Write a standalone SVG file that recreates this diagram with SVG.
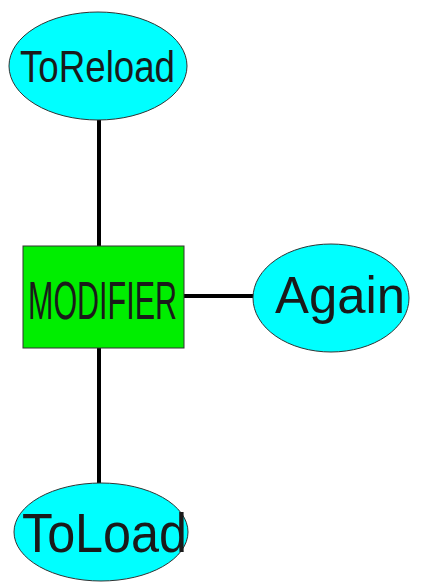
<svg xmlns="http://www.w3.org/2000/svg" width="425" height="582" viewBox="0 0 425 582">
<style>
.ell{fill:#00ffff;stroke:#333;stroke-width:1}
.box{fill:#00ee00;stroke:#333;stroke-width:1}
.edge{stroke:#000;stroke-width:4;fill:none}
text{font-family:"Liberation Sans",Arial,sans-serif;fill:#1a1a1a;text-anchor:start}
</style>
<rect width="425" height="582" fill="#fff"/>
<g id="edges">
<line class="edge" x1="99" y1="120" x2="99" y2="246"/>
<line class="edge" x1="99" y1="348" x2="99" y2="483"/>
<line class="edge" x1="184" y1="296" x2="253" y2="296"/>
</g>
<g id="ToReload">
<ellipse class="ell" cx="98" cy="66" rx="89" ry="54"/>
<text x="20" y="82" font-size="45" textLength="155" lengthAdjust="spacingAndGlyphs">ToReload</text>
</g>
<g id="MODIFIER">
<rect class="box" x="23" y="246" width="161" height="102"/>
<text x="28" y="319" font-size="54" textLength="149" lengthAdjust="spacingAndGlyphs">MODIFIER</text>
</g>
<g id="Again">
<ellipse class="ell" cx="331" cy="298" rx="78" ry="54"/>
<text x="275" y="313" font-size="52" textLength="130" lengthAdjust="spacingAndGlyphs">Again</text>
</g>
<g id="ToLoad">
<ellipse class="ell" cx="101" cy="532" rx="87" ry="49"/>
<text x="22" y="552" font-size="56" textLength="165" lengthAdjust="spacingAndGlyphs">ToLoad</text>
</g>
</svg>
